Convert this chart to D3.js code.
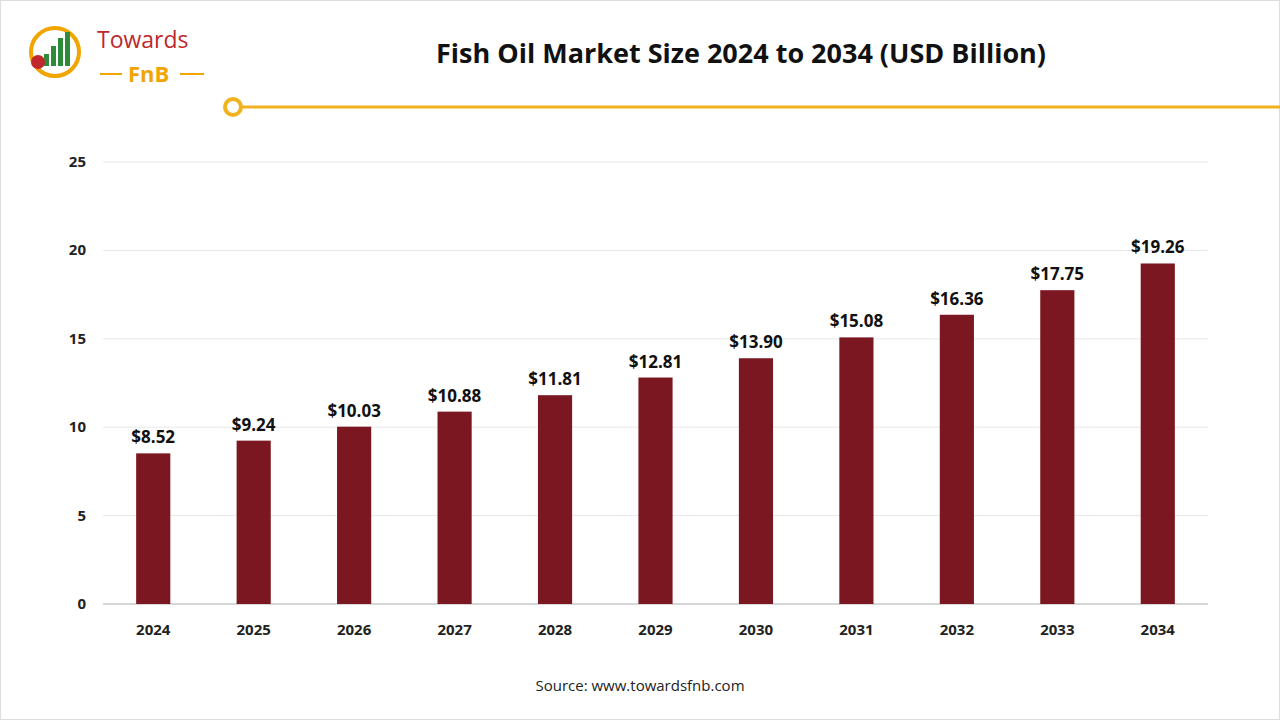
<!DOCTYPE html>
<html><head><meta charset="utf-8">
<script src="https://cdn.jsdelivr.net/npm/d3@7"></script>
<style>body{margin:0;background:#fff}svg{display:block}</style>
</head><body>
<svg id="c" width="1280" height="720"></svg>
<script>
const years = ["2024","2025","2026","2027","2028","2029","2030","2031","2032","2033","2034"];
const values = [8.52,9.24,10.03,10.88,11.81,12.81,13.90,15.08,16.36,17.75,19.26];
const yTicks = [0,5,10,15,20,25];

const svg = d3.select("#c");
const font = "'Open Sans', 'Noto Sans', sans-serif";
svg.append("rect").attr("width",1280).attr("height",720).attr("fill","#fff");
svg.append("rect").attr("x",0.5).attr("y",0.5).attr("width",1279).attr("height",719).attr("fill","none").attr("stroke","#ddd");

// logo
const lg = svg.append("g");
lg.append("circle").attr("cx",55).attr("cy",52).attr("r",24).attr("fill","none").attr("stroke","#f0a500").attr("stroke-width",4);
[[44,12],[51,20],[58,28],[65,34]].forEach(([x,h])=>lg.append("rect").attr("x",x).attr("y",74-h-8).attr("width",5).attr("height",h).attr("fill","#2e8b3a"));
lg.append("circle").attr("cx",38).attr("cy",62).attr("r",7).attr("fill","#c0282d");
lg.append("text").attr("x",97).attr("y",48).attr("font-family",font).attr("font-size",23).attr("fill","#c0282d").text("Towards");
lg.append("text").attr("x",128).attr("y",82).attr("font-family",font).attr("font-size",22).attr("font-weight","bold").attr("fill","#f0a500").text("FnB");
lg.append("line").attr("x1",100).attr("x2",122).attr("y1",74).attr("y2",74).attr("stroke","#f0a500").attr("stroke-width",2);
lg.append("line").attr("x1",180).attr("x2",204).attr("y1",74).attr("y2",74).attr("stroke","#f0a500").attr("stroke-width",2);

svg.append("text").attr("x",741).attr("y",63).attr("text-anchor","middle").attr("font-family",font).attr("font-weight","bold").attr("font-size",27).attr("fill","#111").text("Fish Oil Market Size 2024 to 2034 (USD Billion)");
svg.append("line").attr("x1",240).attr("x2",1280).attr("y1",107).attr("y2",107).attr("stroke","#f0b21e").attr("stroke-width",3);
svg.append("circle").attr("cx",233).attr("cy",107).attr("r",8).attr("fill","#fff").attr("stroke","#f0b21e").attr("stroke-width",4);

const x = d3.scaleBand().domain(years).range([103,1208]).paddingInner(0.66).paddingOuter(0.33);
const y = d3.scaleLinear().domain([0,25]).range([604,162]);

svg.append("g").selectAll("line").data(yTicks).join("line")
 .attr("x1",103).attr("x2",1208).attr("y1",d=>y(d)).attr("y2",d=>y(d)).attr("stroke","#e8e8e8");
svg.append("line").attr("x1",103).attr("x2",1208).attr("y1",y(0)).attr("y2",y(0)).attr("stroke","#bbb");

svg.append("g").selectAll("text").data(yTicks).join("text")
 .attr("x",86).attr("y",d=>y(d)+5).attr("text-anchor","end").attr("font-family",font).attr("font-weight","bold").attr("font-size",15).attr("fill","#222").text(d=>d);

svg.append("g").selectAll("rect").data(values).join("rect")
 .attr("x",(d,i)=>x(years[i])).attr("width",x.bandwidth()).attr("y",d=>y(d)).attr("height",d=>y(0)-y(d)).attr("fill","#7b1721");

svg.append("g").selectAll("text").data(values).join("text")
 .attr("x",(d,i)=>x(years[i])+x.bandwidth()/2).attr("y",d=>y(d)-10).attr("text-anchor","middle")
 .attr("font-family",font).attr("font-weight","bold").attr("font-size",17).attr("fill","#111").text(d=>"$"+d.toFixed(2));

svg.append("g").selectAll("text").data(years).join("text")
 .attr("x",d=>x(d)+x.bandwidth()/2).attr("y",635).attr("text-anchor","middle")
 .attr("font-family",font).attr("font-weight","bold").attr("font-size",15).attr("fill","#222").text(d=>d);

svg.append("text").attr("x",640).attr("y",691).attr("text-anchor","middle").attr("font-family",font).attr("font-size",15).attr("fill","#222").text("Source: www.towardsfnb.com");
</script>
</body></html>
